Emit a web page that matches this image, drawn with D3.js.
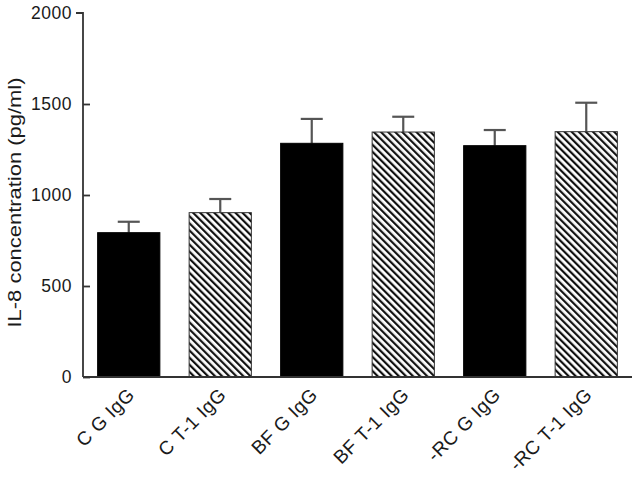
<!DOCTYPE html>
<html><head><meta charset="utf-8">
<script src="https://cdn.jsdelivr.net/npm/d3@7"></script>
<style>body{margin:0;background:#fff}svg{display:block}text{font-family:"Liberation Sans",Arial,sans-serif;fill:#1a1a1a}</style>
</head><body><svg id="c" width="634" height="484"></svg>
<script>
const categories = ["C G IgG","C T-1 IgG","BF G IgG","BF T-1 IgG","-RC G IgG","-RC T-1 IgG"];
const values = [793, 903, 1284, 1346, 1271, 1348];
const errors = [60, 75, 134, 84, 86, 159];
const hatched = [false, true, false, true, false, true];
const yTicks = [0, 500, 1000, 1500, 2000];
const yLabel = "IL-8 concentration (pg/ml)";

const svg = d3.select("#c");
const x0 = 83, x1 = 632, yTop = 13, yBot = 377;
const x = d3.scaleBand().domain(categories).range([x0, x1]).paddingInner(0.32).paddingOuter(0.16);
const y = d3.scaleLinear().domain([0, 2000]).range([yBot, yTop]);

const defs = svg.append("defs");
const pat = defs.append("pattern").attr("id","hatch").attr("patternUnits","userSpaceOnUse")
  .attr("width",5).attr("height",5).attr("patternTransform","rotate(-45)");
pat.append("rect").attr("width",5).attr("height",5).attr("fill","#fff");
pat.append("rect").attr("x",0).attr("width",2.2).attr("height",5).attr("fill","#111");

const data = categories.map((c,i)=>({c, v:values[i], e:errors[i], h:hatched[i]}));

// error bars (behind bars)
const eb = svg.append("g").attr("stroke","#555").attr("stroke-width",2.2);
data.forEach(d=>{
  const cx = x(d.c) + x.bandwidth()/2;
  eb.append("line").attr("x1",cx).attr("x2",cx).attr("y1",y(d.v)).attr("y2",y(d.v+d.e));
  eb.append("line").attr("x1",cx-11).attr("x2",cx+11).attr("y1",y(d.v+d.e)).attr("y2",y(d.v+d.e));
});

svg.append("g").selectAll("rect").data(data).join("rect")
  .attr("x", d=>x(d.c)).attr("width", x.bandwidth())
  .attr("y", d=>y(d.v)).attr("height", d=>yBot - y(d.v))
  .attr("fill", d=>d.h ? "url(#hatch)" : "#000")
  .attr("stroke", d=>d.h ? "#333" : "#000").attr("stroke-width", 1);

// y axis
const yAxis = svg.append("g").attr("transform",`translate(${x0},0)`)
  .call(d3.axisLeft(y).tickValues(yTicks).tickSize(-7).tickPadding(11).tickFormat(d3.format("d")));
yAxis.select(".domain").attr("stroke","#333").attr("stroke-width",1.8).attr("d",`M-7,${yTop}H0V${yBot}`);
yAxis.selectAll(".tick line").attr("stroke","#333").attr("stroke-width",1.8);
yAxis.selectAll(".tick text").attr("font-size",17.5).attr("letter-spacing","0.5px").attr("fill","#1a1a1a")
  .attr("font-family","'Liberation Sans',Arial,sans-serif");
yAxis.selectAll(".tick").filter(d=>d===2000).select("line").remove();
// axis line x
svg.append("line").attr("x1",x0).attr("x2",x1).attr("y1",yBot).attr("y2",yBot).attr("stroke","#333").attr("stroke-width",1.8);

// x labels
svg.append("g").selectAll("text").data(categories).join("text")
  .attr("transform", d=>`translate(${x(d)+x.bandwidth()/2+7},${yBot+19}) rotate(-45)`)
  .attr("text-anchor","end").attr("font-size",19).attr("letter-spacing","0.5px")
  .text(d=>d);

// y label
svg.append("text").attr("transform",`translate(21,${(77+328)/2}) rotate(-90)`)
  .attr("text-anchor","middle").attr("font-size",18.5).attr("textLength",250).attr("lengthAdjust","spacingAndGlyphs")
  .text(yLabel);
</script></body></html>
